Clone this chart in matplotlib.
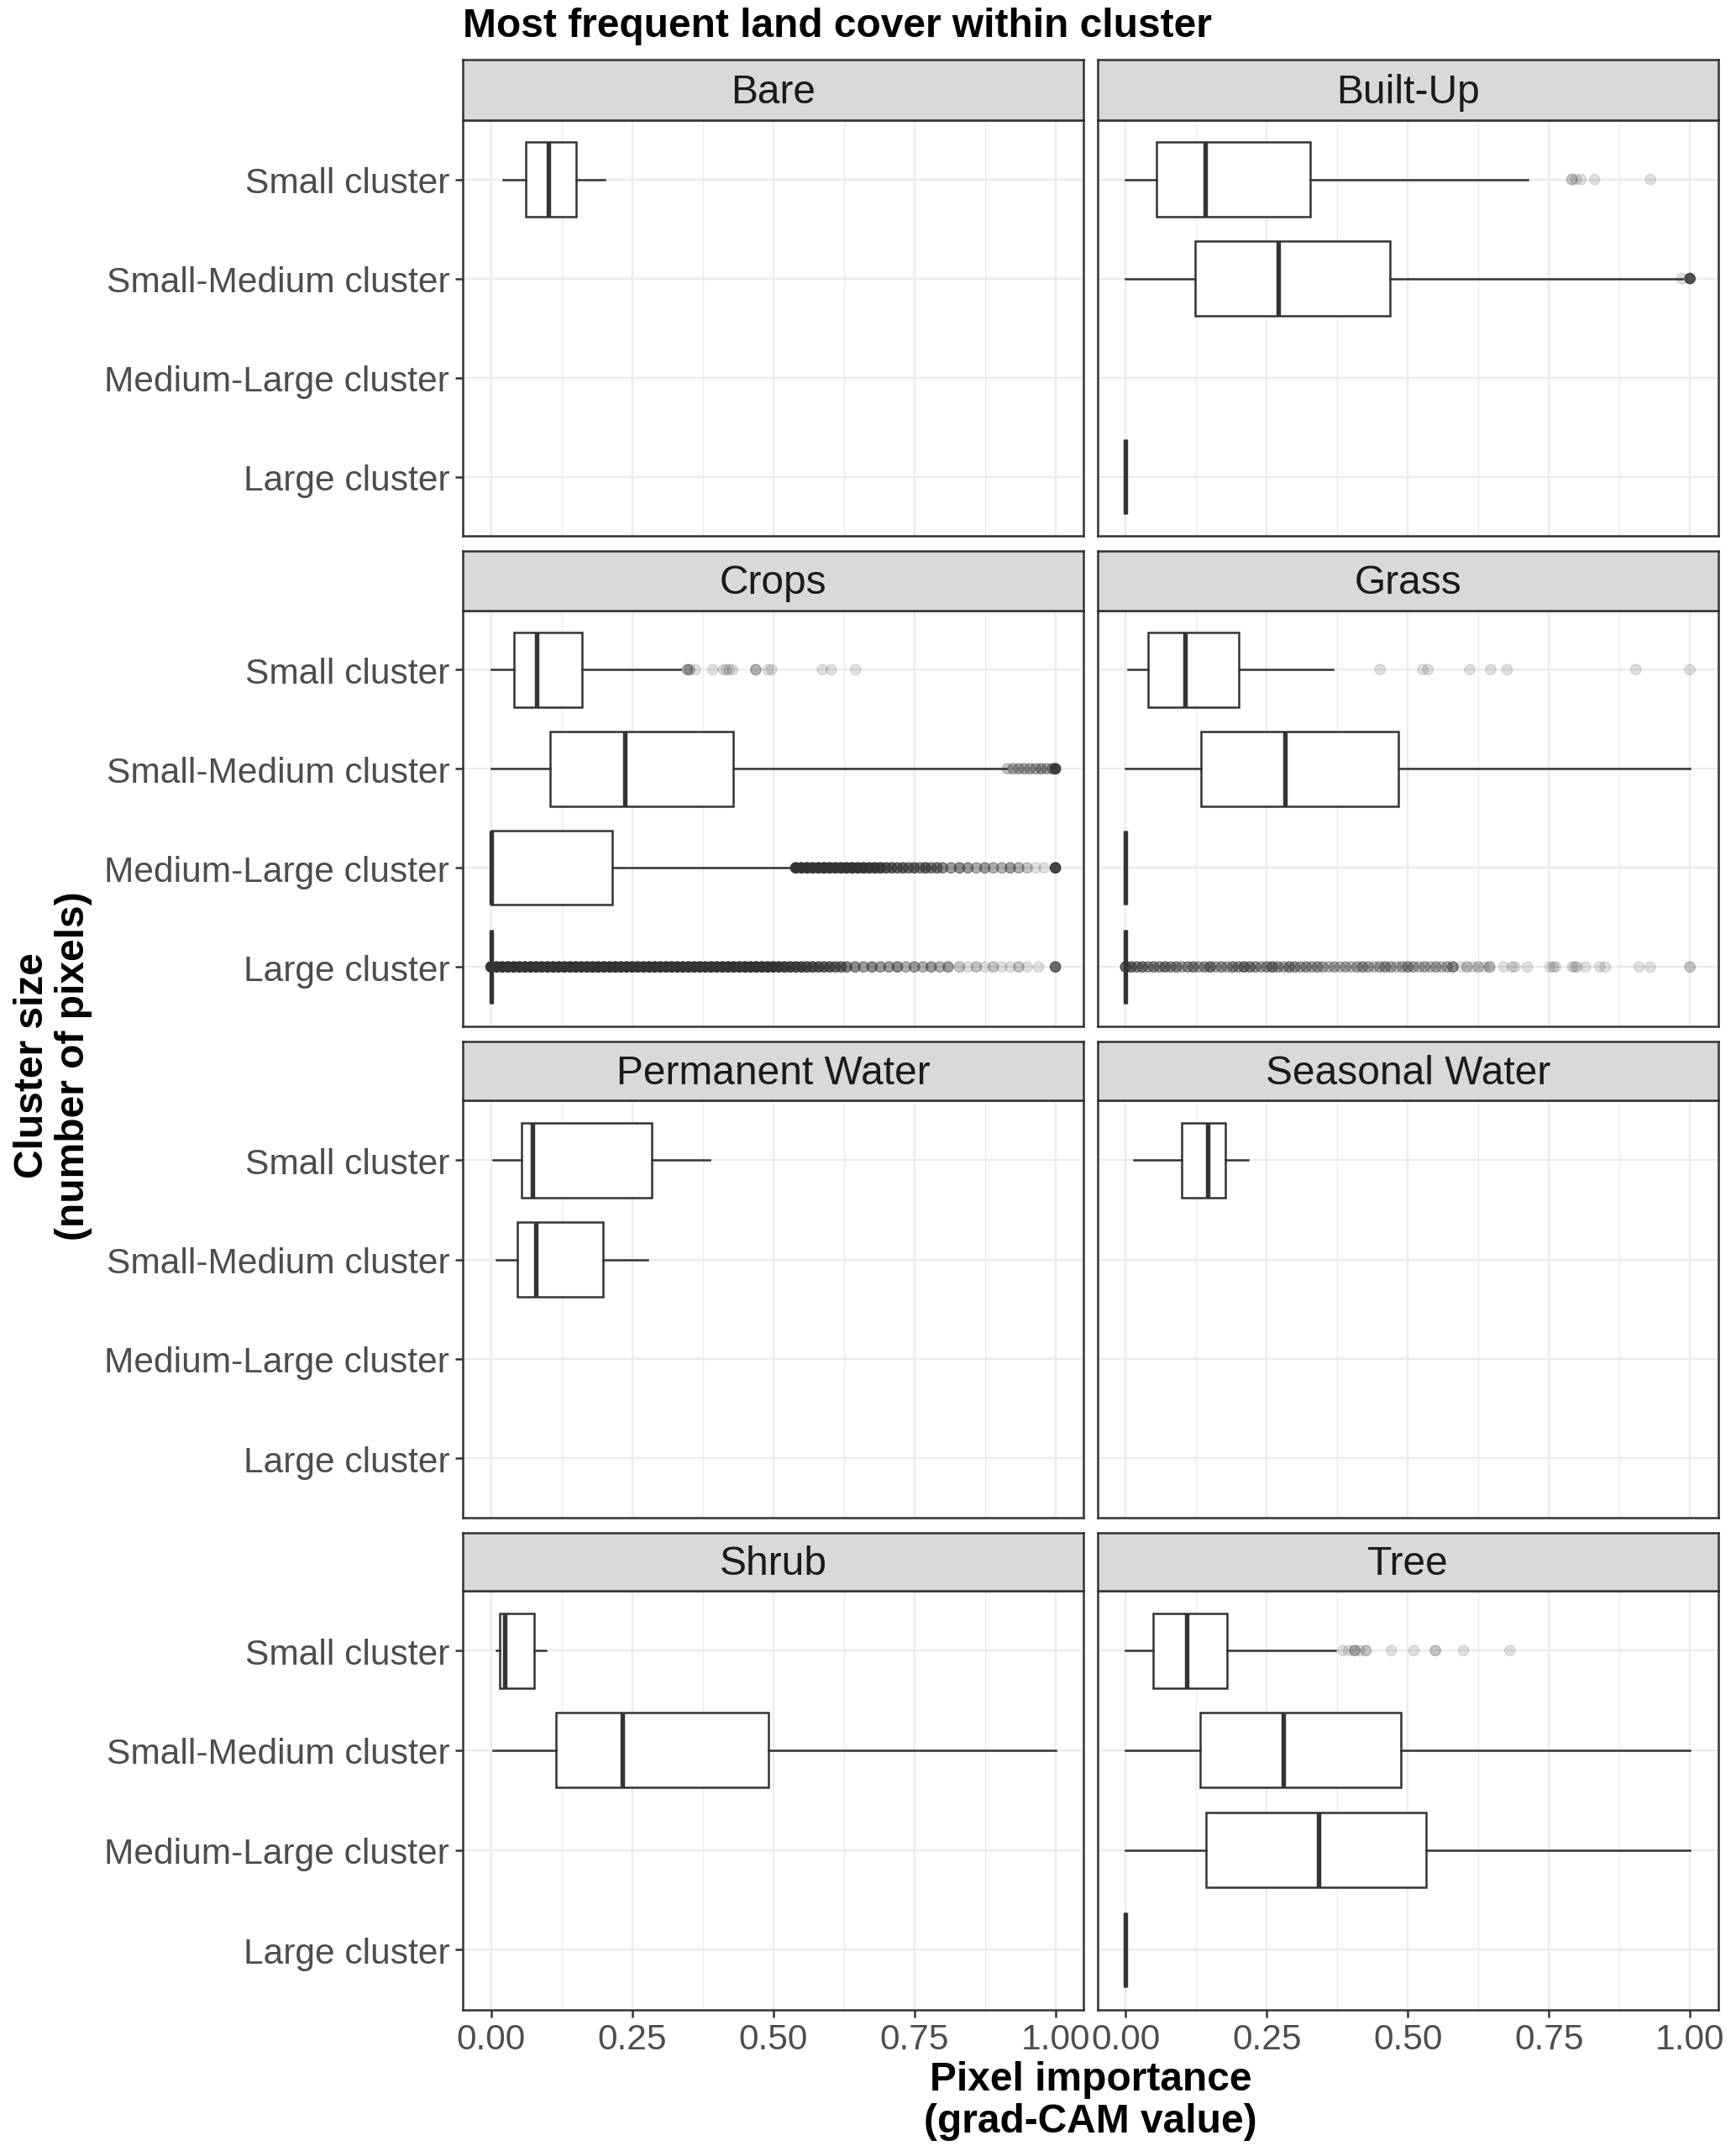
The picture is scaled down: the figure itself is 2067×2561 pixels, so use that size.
import matplotlib
matplotlib.use("Agg")
import matplotlib.pyplot as plt
import numpy as np

plt.rcParams['font.family'] = ['Liberation Sans', 'DejaVu Sans']

# ---------------- data ----------------
categories = ["Small cluster", "Small-Medium cluster", "Medium-Large cluster", "Large cluster"]
land_covers = ["Bare", "Built-Up", "Crops", "Grass",
               "Permanent Water", "Seasonal Water", "Shrub", "Tree"]
x_ticks = [0.0, 0.25, 0.5, 0.75, 1.0]
x_tick_labels = ["0.00", "0.25", "0.50", "0.75", "1.00"]
x_minor = [0.125, 0.375, 0.625, 0.875]

# [whisker low, Q1, median, Q3, whisker high] per category (None = no pixels)
bare_stats = [[0.022, 0.061, 0.102, 0.151, 0.202], None, None, None]
builtup_stats = [[0.0, 0.055, 0.141, 0.327, 0.712], [0.0, 0.123, 0.270, 0.469, 0.986],
                 None, [0.0, 0.0, 0.0, 0.0, 0.0]]
crops_stats = [[0.0, 0.040, 0.081, 0.161, 0.336], [0.0, 0.104, 0.237, 0.429, 0.913],
               [0.0, 0.0, 0.0, 0.215, 0.540], [0.0, 0.0, 0.0, 0.0, 0.0]]
grass_stats = [[0.004, 0.040, 0.105, 0.201, 0.367], [0.0, 0.133, 0.282, 0.484, 1.0],
               [0.0, 0.0, 0.0, 0.0, 0.0], [0.0, 0.0, 0.0, 0.0, 0.0]]
perm_water_stats = [[0.003, 0.054, 0.073, 0.284, 0.388], [0.010, 0.047, 0.080, 0.198, 0.277],
                    None, None]
seas_water_stats = [[0.014, 0.099, 0.146, 0.177, 0.217], None, None, None]
shrub_stats = [[0.010, 0.016, 0.024, 0.076, 0.097], [0.004, 0.115, 0.232, 0.491, 1.0],
               None, None]
tree_stats = [[0.0, 0.049, 0.109, 0.180, 0.372], [0.0, 0.132, 0.280, 0.488, 1.0],
              [0.0, 0.142, 0.342, 0.532, 1.0], [0.0, 0.0, 0.0, 0.0, 0.0]]

# outliers: values and number of overlapping pixels at each value
builtup_small_out = [0.791, 0.798, 0.807, 0.831, 0.930]
builtup_small_cnt = [2, 1, 1, 1, 1]
builtup_smed_out = [0.986, 1.0]
builtup_smed_cnt = [1, 12]

crops_small_out = [0.348, 0.352, 0.362, 0.393, 0.412, 0.417, 0.422, 0.428,
                   0.469, 0.491, 0.497, 0.587, 0.603, 0.646]
crops_small_cnt = [3, 2, 1, 1, 1, 1, 1, 1, 3, 1, 1, 1, 1, 1]
crops_smed_out = [0.915, 0.925, 0.935, 0.945, 0.955, 0.965, 0.975, 0.985, 0.995, 1.0]
crops_smed_cnt = [2, 3, 3, 3, 3, 3, 4, 3, 4, 15]
crops_mlarge_out = [0.54, 0.55, 0.56, 0.57, 0.58, 0.59, 0.60, 0.61, 0.62, 0.63,
                    0.64, 0.65, 0.66, 0.67, 0.68, 0.69, 0.70, 0.71, 0.72, 0.73,
                    0.74, 0.75, 0.76, 0.77, 0.78, 0.79, 0.80, 0.815, 0.83, 0.845,
                    0.86, 0.875, 0.89, 0.905, 0.92, 0.935, 0.95, 0.965, 0.98, 1.0]
crops_mlarge_cnt = [30, 30, 30, 30, 30, 30, 30, 30, 30, 25,
                    25, 22, 20, 18, 16, 14, 9, 8, 7, 8,
                    6, 7, 5, 8, 5, 6, 5, 4, 5, 4,
                    3, 4, 3, 3, 4, 3, 2, 1, 1, 15]
crops_large_out = [0.00, 0.01, 0.02, 0.03, 0.04, 0.05, 0.06, 0.07, 0.08, 0.09,
                   0.10, 0.11, 0.12, 0.13, 0.14, 0.15, 0.16, 0.17, 0.18, 0.19,
                   0.20, 0.21, 0.22, 0.23, 0.24, 0.25, 0.26, 0.27, 0.28, 0.29,
                   0.30, 0.31, 0.32, 0.33, 0.34, 0.35, 0.36, 0.37, 0.38, 0.39,
                   0.40, 0.41, 0.42, 0.43, 0.44, 0.45, 0.46, 0.47, 0.48, 0.49,
                   0.50, 0.51, 0.52, 0.53, 0.54, 0.55, 0.56, 0.57, 0.58, 0.59,
                   0.60, 0.61, 0.62, 0.63, 0.645, 0.66, 0.675, 0.69, 0.705, 0.72,
                   0.735, 0.75, 0.765, 0.78, 0.795, 0.81, 0.83, 0.845, 0.86, 0.875,
                   0.89, 0.905, 0.92, 0.935, 0.95, 0.97, 1.0]
crops_large_cnt = [40, 40, 40, 40, 40, 40, 40, 40, 40, 40,
                   40, 40, 40, 40, 40, 40, 40, 40, 40, 40,
                   40, 40, 40, 40, 40, 40, 40, 40, 40, 40,
                   40, 40, 40, 40, 40, 40, 40, 40, 40, 40,
                   40, 40, 40, 40, 40, 40, 40, 40, 40, 40,
                   30, 18, 15, 14, 12, 12, 10, 10, 9, 8,
                   8, 7, 7, 6, 5, 4, 5, 4, 4, 5,
                   3, 4, 3, 4, 3, 4, 2, 1, 2, 1,
                   2, 1, 1, 2, 1, 1, 8]

grass_small_out = [0.451, 0.527, 0.536, 0.610, 0.647, 0.676, 0.904, 1.0]
grass_small_cnt = [1, 1, 1, 1, 1, 1, 1, 1]
grass_large_out = [0.00, 0.01, 0.02, 0.03, 0.04, 0.05, 0.06, 0.07, 0.08, 0.09,
                   0.10, 0.11, 0.12, 0.13, 0.14, 0.15, 0.16, 0.17, 0.18, 0.19,
                   0.20, 0.21, 0.22, 0.23, 0.24, 0.25, 0.26, 0.27, 0.28, 0.29,
                   0.30, 0.31, 0.32, 0.33, 0.34, 0.35, 0.36, 0.37, 0.38, 0.39,
                   0.40, 0.41, 0.42, 0.43, 0.44, 0.45, 0.46, 0.47, 0.48, 0.49,
                   0.50, 0.51, 0.52, 0.53, 0.54, 0.55, 0.56, 0.57, 0.58,
                   0.595, 0.605, 0.615, 0.625, 0.635, 0.645,
                   0.670, 0.685, 0.690, 0.712, 0.752, 0.758, 0.762, 0.792, 0.796,
                   0.800, 0.815, 0.840, 0.850, 0.910, 0.930, 1.0]
grass_large_cnt = [8, 7, 5, 6, 4, 5, 4, 6, 4, 5,
                   3, 4, 5, 3, 4, 6, 3, 4, 3, 5,
                   4, 6, 5, 4, 3, 4, 6, 4, 3, 5,
                   4, 3, 4, 3, 4, 3, 2, 3, 2, 3,
                   2, 3, 4, 3, 2, 3, 4, 3, 2, 3,
                   4, 3, 2, 3, 2, 3, 2, 3, 5,
                   1, 2, 1, 2, 1, 3,
                   1, 1, 1, 1, 1, 1, 1, 1, 1,
                   1, 1, 1, 1, 1, 1, 2]

tree_small_out = [0.385, 0.395, 0.406, 0.415, 0.426, 0.471, 0.511, 0.549, 0.599, 0.681]
tree_small_cnt = [1, 1, 3, 1, 2, 1, 1, 2, 1, 1]

panel_stats = {
    "Bare": bare_stats, "Built-Up": builtup_stats, "Crops": crops_stats,
    "Grass": grass_stats, "Permanent Water": perm_water_stats,
    "Seasonal Water": seas_water_stats, "Shrub": shrub_stats, "Tree": tree_stats,
}
panel_outliers = {
    ("Built-Up", 0): (builtup_small_out, builtup_small_cnt),
    ("Built-Up", 1): (builtup_smed_out, builtup_smed_cnt),
    ("Crops", 0): (crops_small_out, crops_small_cnt),
    ("Crops", 1): (crops_smed_out, crops_smed_cnt),
    ("Crops", 2): (crops_mlarge_out, crops_mlarge_cnt),
    ("Crops", 3): (crops_large_out, crops_large_cnt),
    ("Grass", 0): (grass_small_out, grass_small_cnt),
    ("Grass", 3): (grass_large_out, grass_large_cnt),
    ("Tree", 0): (tree_small_out, tree_small_cnt),
}

# ---------------- layout ----------------
W, H = 1264.0, 1567.0
def fx(x):
    return x / W
def fy(y):
    return 1.0 - y / H

col_x = [(337, 789), (799, 1251)]
rows_y = [(44, 88, 391), (402, 445, 748), (759, 802, 1106), (1117, 1159, 1464)]

fig = plt.figure(figsize=(2067 / 300, 2562 / 300), dpi=300)

dark = '#333333'
grid_col = '#EBEBEB'
POINT_ALPHA = 0.15
n_cat = len(categories)
ypos = [n_cat - 1 - i for i in range(n_cat)]   # Small cluster on top

for i, lc in enumerate(land_covers):
    r, c = divmod(i, 2)
    x0, x1 = col_x[c]
    st, pt, pb = rows_y[r]
    ax = fig.add_axes([fx(x0), fy(pb), (x1 - x0) / W, (pb - pt) / H])
    sax = fig.add_axes([fx(x0), fy(pt), (x1 - x0) / W, (pt - st) / H])

    # strip
    sax.set_facecolor('#D9D9D9')
    sax.set_xticks([]); sax.set_yticks([])
    for sp in sax.spines.values():
        sp.set_color(dark); sp.set_linewidth(0.6)
    sax.text(0.5, 0.47, lc, transform=sax.transAxes, ha='center', va='center',
             fontsize=11.5, color='#1A1A1A')

    # panel
    ax.set_xlim(-0.05, 1.05)
    ax.set_ylim(-0.6, n_cat - 0.4)
    ax.set_axisbelow(True)
    for xv in x_ticks:
        ax.axvline(xv, color=grid_col, lw=0.55, zorder=0)
    for xv in x_minor:
        ax.axvline(xv, color=grid_col, lw=0.3, zorder=0)
    for yv in ypos:
        ax.axhline(yv, color=grid_col, lw=0.55, zorder=0)
    for sp in ax.spines.values():
        sp.set_color(dark); sp.set_linewidth(0.6); sp.set_zorder(5)

    stats = panel_stats[lc]
    bxp_stats, bxp_pos = [], []
    for k, s in enumerate(stats):
        if s is None:
            continue
        bxp_stats.append(dict(whislo=s[0], q1=s[1], med=s[2], q3=s[3], whishi=s[4], fliers=[]))
        bxp_pos.append(ypos[k])
    ax.bxp(bxp_stats, positions=bxp_pos, widths=0.75, orientation='horizontal',
           showcaps=False, showfliers=False, patch_artist=True,
           boxprops=dict(facecolor='white', edgecolor=dark, linewidth=0.6),
           whiskerprops=dict(color=dark, linewidth=0.6),
           medianprops=dict(color=dark, linewidth=1.3, solid_capstyle='butt'),
           zorder=2)

    for k in range(n_cat):
        if (lc, k) in panel_outliers:
            vals, cnts = panel_outliers[(lc, k)]
            vals = np.asarray(vals, dtype=float)
            a = 1.0 - (1.0 - POINT_ALPHA) ** np.asarray(cnts, dtype=float)
            cols = np.zeros((len(vals), 4))
            cols[:, :3] = 0.2
            cols[:, 3] = a
            ax.scatter(vals, np.full(len(vals), ypos[k]), s=9, c=cols,
                       edgecolors=cols, linewidths=0.3, zorder=3, clip_on=True)

    ax.set_xticks(x_ticks)
    ax.set_yticks(ypos)
    ax.tick_params(axis='both', length=2.2, width=0.6, color=dark,
                   labelsize=10.2, labelcolor='#4D4D4D', pad=1.6)
    if c == 0:
        ax.set_yticklabels(categories)
    else:
        ax.tick_params(axis='y', left=False, labelleft=False)
    if r == 3:
        ax.set_xticklabels(x_tick_labels)
    else:
        ax.tick_params(axis='x', bottom=False, labelbottom=False)

fig.text(fx(337), fy(19), "Most frequent land cover within cluster",
         ha='left', va='center', fontsize=11.5, fontweight='bold', color='black')
fig.text(fx(794), fy(1530), "Pixel importance\n(grad-CAM value)",
         ha='center', va='center', fontsize=11.5, fontweight='bold',
         linespacing=1.12, color='black')
fig.text(fx(38.5), fy(776), "Cluster size\n(number of pixels)",
         ha='center', va='center', rotation=90, fontsize=11.5, fontweight='bold',
         linespacing=1.12, color='black')

fig.savefig("out.png", dpi=300, facecolor='white')
